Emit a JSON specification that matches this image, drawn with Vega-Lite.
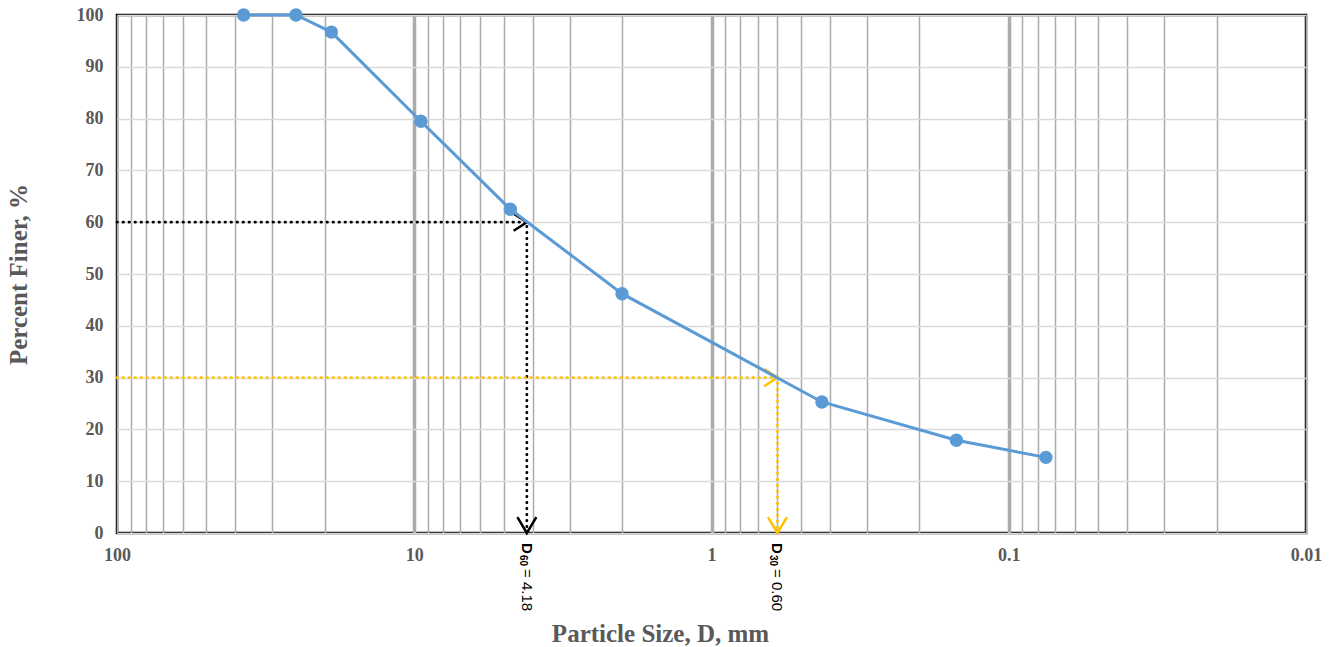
{
  "$schema": "https://vega.github.io/schema/vega-lite/v6.json",
  "width": 1189,
  "height": 518,
  "autosize": {"type": "none"},
  "padding": {"left": 117, "top": 15, "right": 24, "bottom": 114},
  "background": "white",
  "config": {
    "view": {"stroke": "black", "strokeWidth": 2.5},
    "axis": {"labelFont": "Liberation Serif", "titleFont": "Liberation Serif"}
  },
  "datasets": {
    "sieve": [
      {"size": 37.5, "pct": 100},
      {"size": 25, "pct": 100},
      {"size": 19, "pct": 96.7},
      {"size": 9.5, "pct": 79.5},
      {"size": 4.75, "pct": 62.5},
      {"size": 2.0, "pct": 46.2},
      {"size": 0.425, "pct": 25.3},
      {"size": 0.15, "pct": 17.9},
      {"size": 0.075, "pct": 14.6}
    ],
    "guides": [
      {"series": "D60", "ord": 1, "size": 100, "pct": 60},
      {"series": "D60", "ord": 2, "size": 4.18, "pct": 60},
      {"series": "D60", "ord": 3, "size": 4.18, "pct": 0},
      {"series": "D30", "ord": 1, "size": 100, "pct": 30},
      {"series": "D30", "ord": 2, "size": 0.6, "pct": 30},
      {"series": "D30", "ord": 3, "size": 0.6, "pct": 0}
    ],
    "tips": [
      {"series": "D60", "size": 4.18, "pct": 60, "bottom": 0, "sub": "60", "val": "= 4.18"},
      {"series": "D30", "size": 0.6, "pct": 30, "bottom": 0, "sub": "30", "val": "= 0.60"}
    ]
  },
  "layer": [
    {
      "data": {"name": "guides"},
      "mark": {"type": "line", "strokeWidth": 2.8, "strokeDash": [0.5, 5.5], "strokeCap": "round"},
      "encoding": {
        "x": {
          "field": "size", "type": "quantitative",
          "scale": {"type": "log", "domain": [0.01, 100], "reverse": true, "nice": false, "zero": false},
          "axis": {
            "title": "Particle Size, D, mm",
            "values": [100, 90, 80, 70, 60, 50, 40, 30, 20, 10, 9, 8, 7, 6, 5, 4, 3, 2, 1, 0.9, 0.8, 0.7, 0.6, 0.5, 0.4, 0.3, 0.2, 0.1, 0.09, 0.08, 0.07, 0.06, 0.05, 0.04, 0.03, 0.02, 0.01],
            "labelExpr": "(datum.value == 100 || datum.value == 10 || datum.value == 1 || datum.value == 0.1 || datum.value == 0.01) ? format(datum.value, '~g') : ''",
            "grid": true,
            "gridColor": "#ababab",
            "gridWidth": {"condition": {"test": "datum.value == 10 || datum.value == 1 || datum.value == 0.1", "value": 3.5}, "value": 1.5},
            "ticks": false,
            "domain": false,
            "labelFontSize": 18,
            "labelFontWeight": "bold",
            "labelColor": "#595959",
            "labelPadding": 13,
            "labelFlush": false,
            "labelOverlap": false,
            "titleFontSize": 25,
            "titleFontWeight": "bold",
            "titleColor": "#595959",
            "titleX": 543,
            "titleY": 108,
            "titleBaseline": "alphabetic"
          }
        },
        "y": {
          "field": "pct", "type": "quantitative",
          "scale": {"domain": [0, 100], "nice": false},
          "axis": {
            "title": "Percent Finer, %",
            "values": [0, 10, 20, 30, 40, 50, 60, 70, 80, 90, 100],
            "grid": true,
            "gridColor": "#d9d9d9",
            "gridWidth": 1.5,
            "ticks": false,
            "domain": false,
            "labelFontSize": 18,
            "labelFontWeight": "bold",
            "labelColor": "#595959",
            "labelPadding": 14,
            "titleFontSize": 25,
            "titleFontWeight": "bold",
            "titleColor": "#595959",
            "titleX": -86,
            "titleY": 259
          }
        },
        "color": {"field": "series", "type": "nominal", "scale": {"domain": ["D60", "D30"], "range": ["#000000", "#FFC000"]}, "legend": null},
        "order": {"field": "ord", "type": "quantitative"}
      }
    },
    {
      "data": {"name": "tips"},
      "mark": {"type": "point", "shape": "M -1 -0.65 L 0 0 L -1 0.65", "filled": false, "strokeWidth": 2.5, "size": 700, "opacity": 1},
      "encoding": {
        "x": {"field": "size", "type": "quantitative"},
        "y": {"field": "pct", "type": "quantitative"},
        "stroke": {"field": "series", "type": "nominal", "scale": {"domain": ["D60", "D30"], "range": ["#000000", "#FFC000"]}, "legend": null}
      }
    },
    {
      "data": {"name": "tips"},
      "mark": {"type": "point", "shape": "M -0.6 -1 L 0 0 L 0.6 -1", "filled": false, "strokeWidth": 2.5, "size": 1000, "opacity": 1},
      "encoding": {
        "x": {"field": "size", "type": "quantitative"},
        "y": {"field": "bottom", "type": "quantitative"},
        "stroke": {"field": "series", "type": "nominal", "scale": {"domain": ["D60", "D30"], "range": ["#000000", "#FFC000"]}, "legend": null}
      }
    },
    {
      "data": {"name": "sieve"},
      "mark": {"type": "line", "color": "#5B9BD5", "strokeWidth": 3},
      "encoding": {
        "x": {"field": "size", "type": "quantitative"},
        "y": {"field": "pct", "type": "quantitative"}
      }
    },
    {
      "data": {"name": "sieve"},
      "mark": {"type": "point", "filled": true, "color": "#5B9BD5", "size": 180, "opacity": 1},
      "encoding": {
        "x": {"field": "size", "type": "quantitative"},
        "y": {"field": "pct", "type": "quantitative"}
      }
    },
    {
      "data": {"name": "tips"},
      "mark": {"type": "text", "text": "D", "font": "Liberation Sans", "fontWeight": "bold", "fontSize": 15, "angle": 90, "align": "left", "baseline": "middle", "dx": 10, "color": "black"},
      "encoding": {
        "x": {"field": "size", "type": "quantitative"},
        "y": {"field": "bottom", "type": "quantitative"}
      }
    },
    {
      "data": {"name": "tips"},
      "mark": {"type": "text", "font": "Liberation Sans", "fontWeight": "bold", "fontSize": 10, "angle": 90, "align": "left", "baseline": "middle", "dx": 22, "dy": 4, "color": "black"},
      "encoding": {
        "x": {"field": "size", "type": "quantitative"},
        "y": {"field": "bottom", "type": "quantitative"},
        "text": {"field": "sub"}
      }
    },
    {
      "data": {"name": "tips"},
      "mark": {"type": "text", "font": "Liberation Sans", "fontSize": 15, "angle": 90, "align": "left", "baseline": "middle", "dx": 36, "color": "black"},
      "encoding": {
        "x": {"field": "size", "type": "quantitative"},
        "y": {"field": "bottom", "type": "quantitative"},
        "text": {"field": "val"}
      }
    }
  ]
}
